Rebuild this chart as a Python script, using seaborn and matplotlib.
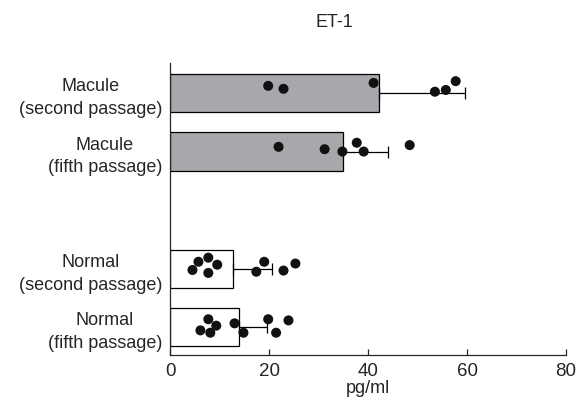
import numpy as np
import pandas as pd
import matplotlib
matplotlib.use("Agg")
import matplotlib.pyplot as plt
import seaborn as sns

# groups, top to bottom (blank slot separates macule and normal)
groups = ["Macule\n(second passage)", "Macule\n(fifth passage)", "",
          "Normal\n(second passage)", "Normal\n(fifth passage)"]
bar_groups = [groups[0], groups[1], groups[3], groups[4]]
means = [42.1, 35.0, 12.6, 13.8]
sds = [17.4, 9.1, 8.0, 5.8]
bar_colors = ["#a7a8ab", "#a7a8ab", "white", "white"]

# individual samples (pg/ml) and their vertical scatter
dots_mac2 = [19.8, 22.9, 41.1, 53.5, 55.7, 57.7]
jit_mac2 = [-0.12, -0.07, -0.17, -0.02, -0.05, -0.20]
dots_mac5 = [21.9, 31.2, 34.8, 37.7, 39.1, 48.4]
jit_mac5 = [-0.08, -0.04, 0.0, -0.15, 0.0, -0.11]
dots_nor2 = [4.5, 5.7, 7.7, 9.5, 7.7, 17.4, 19.0, 22.9, 25.3]
jit_nor2 = [0.02, -0.12, -0.19, -0.07, 0.07, 0.05, -0.12, 0.03, -0.09]
dots_nor5 = [6.1, 7.7, 9.3, 8.1, 13.0, 14.8, 19.8, 21.4, 23.9]
jit_nor5 = [0.05, -0.14, -0.03, 0.09, -0.07, 0.09, -0.14, 0.09, -0.12]

sns.set_style("ticks")
plt.rcParams['font.family'] = ['Liberation Sans', 'DejaVu Sans']
plt.rcParams['font.size'] = 13

fig = plt.figure(figsize=(5.79, 4.0), dpi=100)
ax = fig.add_axes([0.294, 0.1125, 0.6836, 0.73])

bars = pd.DataFrame({"group": bar_groups, "value": means})
sns.barplot(data=bars, x="value", y="group", hue="group", order=groups,
            hue_order=bar_groups, palette=bar_colors, orient="h",
            width=0.65, edgecolor="black", linewidth=0.9,
            errorbar=None, legend=False, ax=ax, saturation=1)

pos = [groups.index(g) for g in bar_groups]
ax.errorbar(means, pos, xerr=[np.zeros(len(sds)), sds], fmt="none",
            ecolor="black", elinewidth=0.9, capsize=4, capthick=0.9)

# dots
dot_rows = []
for g, xs, js in [(groups[0], dots_mac2, jit_mac2), (groups[1], dots_mac5, jit_mac5),
                  (groups[3], dots_nor2, jit_nor2), (groups[4], dots_nor5, jit_nor5)]:
    for xv, jv in zip(xs, js):
        dot_rows.append({"x": xv, "y": groups.index(g) + jv})
dots = pd.DataFrame(dot_rows)
sns.scatterplot(data=dots, x="x", y="y", color="#111111", s=52,
                edgecolor="none", ax=ax, zorder=5)

ax.set_xlim(0, 80)
ax.set_ylim(4.47, -0.51)
ax.set_xticks([0, 20, 40, 60, 80])
ax.set_yticks(range(len(groups)))
ax.set_yticklabels(groups)
for t in ax.get_yticklabels():
    t.set_multialignment("center")
    t.set_linespacing(1.45)
ax.tick_params(axis="y", length=0, pad=6, labelsize=13)
ax.tick_params(axis="x", direction="in", length=4, width=0.9, pad=6,
               labelsize=13.5)
ax.set_xlabel("pg/ml", labelpad=0, fontsize=13)
ax.set_ylabel("")
for side in ["top", "right"]:
    ax.spines[side].set_visible(False)
for side in ["left", "bottom"]:
    ax.spines[side].set_linewidth(0.9)

fig.text(0.578, 0.943, "ET-1", ha="center", va="center", fontsize=13)

plt.savefig("out.png", dpi=100)
plt.close()
